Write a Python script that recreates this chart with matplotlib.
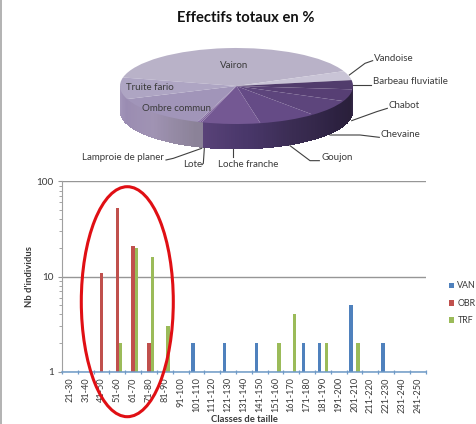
import numpy as np
import matplotlib
matplotlib.use("Agg")
import matplotlib.pyplot as plt
from matplotlib.patches import Ellipse, Rectangle
from matplotlib.ticker import NullFormatter, FixedLocator, LogLocator, ScalarFormatter

plt.rcParams['font.family'] = ['Lato', 'DejaVu Sans']

# ---- data ----
species = ["Vairon", "Vandoise", "Barbeau fluviatile", "Chabot", "Chevaine", "Goujon",
           "Loche franche", "Lote", "Lamproie de planer", "Ombre commun", "Truite fario"]
shares = [40.0, 3.9, 3.9, 5.1, 7.1, 8.1, 8.1, 0.3, 0.3, 14.0, 9.2]
top_colors = ["#b9b2c8", "#c9c4d6", "#513c6c", "#573f74", "#5d457c", "#654b86",
              "#745893", "#7a5e98", "#8a74a6", "#a195b9", "#aea5c3"]
wall_kinds = ["l", "l", "d", "d", "d", "d", "d", "d", "l", "l", "l"]

classes = ["21-30", "31-40", "41-50", "51-60", "61-70", "71-80", "81-90", "91-100",
           "101-110", "111-120", "121-130", "131-140", "141-150", "151-160", "161-170",
           "171-180", "181-190", "191-200", "201-210", "211-220", "221-230", "231-240", "241-250"]
van = [0, 0, 0, 0, 0, 0, 0, 0, 2, 0, 2, 0, 2, 0, 0, 2, 2, 0, 5, 0, 2, 0, 0]
obr = [0, 0, 11, 52, 21, 2, 0, 0, 0, 0, 0, 0, 0, 0, 0, 0, 0, 0, 0, 0, 0, 0, 0]
trf = [0, 0, 0, 2, 20, 16, 3, 0, 0, 0, 0, 0, 0, 2, 4, 0, 2, 0, 2, 0, 0, 0, 0]

W, H = 477, 424
TXT = "#3a3a3a"
fig = plt.figure(figsize=(W / 100, H / 100), dpi=100, facecolor="white")


def px_axes(x0, y0, x1, y1, **kw):
    return fig.add_axes([x0 / W, 1 - y1 / H, (x1 - x0) / W, (y1 - y0) / H], **kw)


# ---- pie ----
CX, CY, RX, RY, DEPTH = 236.5, 86.0, 116.5, 38.0, 25.0
pie_ax = px_axes(0, 0, W, 175)
start = 167.0
pie_ax.pie(shares, colors=top_colors, startangle=start, counterclock=False, radius=1,
           wedgeprops=dict(linewidth=0), frame=False)
pie_ax.set_aspect("auto")
pie_ax.set_xlim((0 - CX) / RX, (W - CX) / RX)
pie_ax.set_ylim((CY - 175) / RY, CY / RY)
pie_ax.axis("off")

depth = DEPTH / RY
light_a, light_c = [180, 200, 225, 250, 252], ["#a99dbe", "#9a8cb2", "#a093b3", "#8b8298", "#8b8298"]
dark_a, dark_c = [252, 275, 300, 330, 350, 360], ["#5a4379", "#49376a", "#3a2c52", "#2c2140", "#2a203a", "#3a2c50"]


def shade(angle, a_list, c_list):
    rgb = np.array([matplotlib.colors.to_rgb(c) for c in c_list])
    return [np.interp(angle, a_list, rgb[:, i]) for i in range(3)]


edges = start - np.cumsum([0] + shares) * 3.6
for i, kind in enumerate(wall_kinds):
    hi, lo = edges[i] % 360 if edges[i] % 360 else 360, edges[i + 1] % 360
    if hi < lo:
        hi += 360
    for a in np.arange(lo, hi, 1.0):
        for aa in (a, a - 360):
            a0, a1 = max(aa, 180), min(aa + 1.3, 360)
            if a1 <= a0:
                continue
            t = np.radians([a0, a1])
            xs = np.cos(t)
            ys = np.sin(t)
            col = shade((a0 + a1) / 2, light_a, light_c) if kind == "l" else shade((a0 + a1) / 2, dark_a, dark_c)
            pie_ax.fill([xs[0], xs[1], xs[1], xs[0]],
                        [ys[0], ys[1], ys[1] - depth, ys[0] - depth], color=col, lw=0,
                        antialiased=False, zorder=0.5)

# ---- bars ----
ax = px_axes(62, 181.3, 425.7, 371.7)
x = np.arange(len(classes))
bw, off = 0.22, 0.215
for vals, dx, col, lab in ((van, -off, "#4f81bd", "VAN"), (obr, 0, "#c0504d", "OBR"), (trf, off, "#9bbb59", "TRF")):
    v = np.array(vals, float)
    m = v > 0
    ax.bar(x[m] + dx, v[m], bw, bottom=0.0, color=col, label=lab, zorder=3, linewidth=0)
ax.set_yscale("log")
ax.set_ylim(1, 100)
ax.set_xlim(-0.5, len(classes) - 0.5)
ax.yaxis.set_major_formatter(ScalarFormatter())
ax.yaxis.set_major_locator(FixedLocator([1, 10, 100]))
ax.yaxis.set_minor_locator(LogLocator(base=10, subs=range(2, 10)))
ax.yaxis.set_minor_formatter(NullFormatter())
ax.grid(axis="y", which="major", color="#969696", lw=1.0, zorder=1)
ax.set_axisbelow(True)
ax.set_xticks(x)
ax.set_xticklabels(classes, rotation=90, fontsize=6.6, color=TXT)
ax.set_xticks(np.arange(-0.5, len(classes)), minor=True)
ax.tick_params(axis="x", which="major", length=0, pad=4)
ax.tick_params(axis="x", which="minor", length=2.5, width=0.9, color="#6f9bc8", direction="inout")
ax.tick_params(axis="y", which="major", length=3, width=0.8, color="#969696", labelsize=7.2, labelcolor=TXT, pad=3)
ax.tick_params(axis="y", which="minor", length=2, width=0.6, color="#969696")
for s in ("top", "right"):
    ax.spines[s].set_visible(False)
ax.spines["left"].set_color("#a0a0a0")
ax.spines["bottom"].set_color("#6f9bc8")
ax.spines["bottom"].set_linewidth(1.1)
ax.spines["bottom"].set_zorder(4)
fig.legend(*ax.get_legend_handles_labels(), loc="upper left",
           bbox_to_anchor=(449 / W, 1 - 281.5 / H), frameon=False, fontsize=6.4, labelcolor=TXT,
           handlelength=0.6, handleheight=0.6, handletextpad=0.35, labelspacing=0.95,
           borderpad=0, borderaxespad=0)

# ---- overlay in pixel coordinates: titles, labels, leaders, ring ----
ov = px_axes(0, 0, W, H, zorder=10)
ov.set_xlim(0, W)
ov.set_ylim(H, 0)
ov.axis("off")
ov.patch.set_alpha(0)
ov.add_patch(Rectangle((0, 0), 1.6, H, color="#b4b4b4", lw=0))
ov.text(246, 17.5, "Effectifs totaux en %", fontsize=10.6, fontweight="bold", color="#111111", ha="center", va="center")
ov.text(29.5, 276.5, "Nb d'individus", rotation=90, fontsize=6.8, fontweight="bold", color=TXT, ha="center", va="center")
ov.text(244, 420, "Classes de taille", fontsize=6.8, fontweight="bold", color=TXT, ha="center", va="center")


def zx(X):
    return 60 + X / 3


def zy(Y):
    return Y / 3


labels = [
    ("Vairon", 522, 196, "center", None),
    ("Truite fario", 270, 264, "center", None),
    ("Ombre commun", 350, 326, "center", None),
    ("Vandoise", 942, 176, "left", [(868, 225), (915, 190), (938, 182)]),
    ("Barbeau fluviatile", 938, 244, "left", [(880, 254), (933, 254)]),
    ("Chabot", 987, 318, "left", [(875, 362), (950, 335), (982, 325)]),
    ("Chevaine", 963, 403, "left", [(810, 405), (900, 405), (958, 412)]),
    ("Goujon", 784, 474, "left", [(690, 437), (750, 482), (778, 482)]),
    ("Loche franche", 565, 494, "center", [(520, 448), (520, 470)]),
    ("Lote", 398, 494, "center", [(433, 445), (430, 490), (426, 494)]),
    ("Lamproie de planer", 312, 472, "right", [(425, 445), (340, 475), (318, 480)]),
]
for name, X, Y, ha, leader in labels:
    ov.text(zx(X), zy(Y), name, fontsize=7.0, color=TXT, ha=ha, va="center")
    if leader:
        ov.plot([zx(p[0]) for p in leader], [zy(p[1]) for p in leader], color="#404040", lw=0.8)

ov.add_patch(Ellipse((127.3, 301.7), 92, 230, fill=False, edgecolor="#e00f14", lw=2.2))

fig.savefig("out.png", dpi=100)
